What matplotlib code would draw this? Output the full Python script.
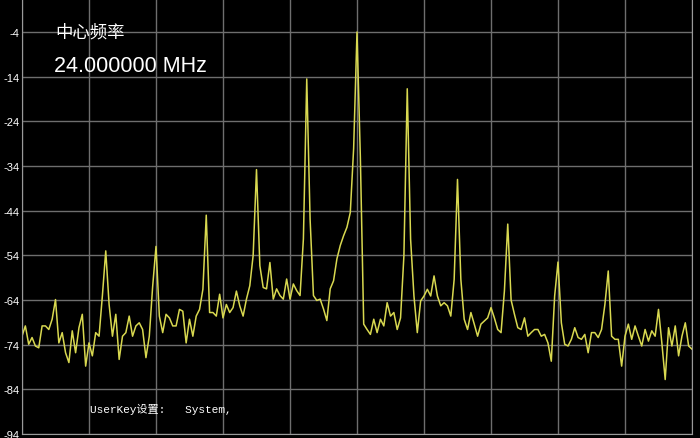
import numpy as np
import matplotlib.pyplot as plt
import matplotlib

matplotlib.rcParams.update({'font.size': 8})

# trace level (dBm), one sample every 0.05 division (201 samples over 10 div)
level = [
    -72.1, -69.8, -73.9, -72.4, -74.3, -74.7, -69.8, -69.8, -70.6, -68.3,
    -63.9, -73.6, -71.3, -75.8, -78.0, -70.9, -75.8, -70.2, -67.2, -78.8,
    -73.6, -76.5, -71.3, -72.1, -63.0, -53.0, -65.0, -72.1, -67.2, -77.3,
    -72.1, -71.3, -67.6, -72.1, -69.8, -69.1, -70.6, -76.9, -72.1, -61.0,
    -52.0, -67.6, -71.3, -67.2, -68.0, -69.8, -69.8, -66.1, -66.5, -73.6,
    -68.3, -72.1, -67.6, -66.1, -61.6, -45.0, -66.8, -66.8, -67.6, -62.7,
    -68.0, -65.0, -66.8, -65.7, -62.0, -65.3, -67.6, -63.8, -60.8, -54.0,
    -34.8, -56.3, -61.2, -61.5, -55.6, -63.8, -61.5, -63.0, -63.8, -59.3,
    -63.8, -60.4, -61.9, -63.0, -50.3, -14.5, -45.9, -63.0, -64.1, -63.8,
    -66.0, -68.6, -61.5, -59.7, -54.8, -51.8, -49.6, -47.7, -44.4, -30.0,
    -4.0, -32.0, -69.4, -70.6, -71.7, -68.3, -71.3, -68.3, -69.8, -64.6,
    -67.6, -66.8, -70.6, -68.0, -54.1, -16.7, -50.4, -63.1, -71.3, -64.2,
    -63.1, -61.6, -63.1, -58.6, -63.1, -65.3, -64.6, -65.3, -67.6, -59.4,
    -37.0, -59.4, -68.3, -70.6, -66.8, -69.4, -72.1, -69.4, -68.7, -68.0,
    -65.7, -68.0, -70.6, -71.3, -62.0, -47.0, -64.0, -67.2, -70.2, -70.6,
    -68.0, -72.1, -71.3, -70.6, -70.6, -72.1, -71.7, -73.6, -77.7, -63.1,
    -55.5, -69.1, -73.9, -74.3, -72.8, -70.2, -72.4, -72.8, -71.7, -75.8,
    -71.3, -71.3, -72.4, -70.6, -65.0, -57.5, -72.1, -72.8, -72.8, -78.8,
    -72.1, -69.4, -72.8, -69.8, -72.1, -74.3, -70.6, -73.2, -70.9, -72.1,
    -66.1, -73.6, -81.8, -70.2, -74.3, -69.8, -76.5, -72.1, -69.1, -74.3,
    -75.0,
]
center_mhz = 24.0
span_mhz = 2.0
freq = center_mhz - span_mhz / 2 + np.arange(len(level)) * span_mhz / (len(level) - 1)

yticks = [-94, -84, -74, -64, -54, -44, -34, -24, -14, -4]

fig = plt.figure(figsize=(7, 4.39), dpi=100, facecolor='black')
ax = fig.add_axes([22 / 700, 4 / 439, 670 / 700, 435 / 439])
ax.set_facecolor('black')

ax.plot(freq, level, color='#d8d850', lw=1.1)

ax.set_xlim(freq[0], freq[-1])
ax.set_ylim(-94, 3.4)
ax.set_xticks(np.linspace(freq[0], freq[-1], 11))
ax.set_yticks(yticks)
ax.set_yticklabels([str(t) for t in yticks], color='white', family='Liberation Sans', fontsize=8)
ax.tick_params(axis='x', labelbottom=False, length=0)
ax.tick_params(axis='y', length=0, pad=2)
ax.grid(color='#6e6e6e', lw=1.0)
for side in ['left', 'bottom', 'right']:
    ax.spines[side].set_color('#9a9a9a')
ax.spines['top'].set_visible(False)

fig.text(55 / 700, 1 - 33 / 439, '中心频率', color='white', fontsize=12.5,
         family=['Noto Sans CJK SC', 'DejaVu Sans'], va='center', ha='left')
fig.text(54 / 700, 1 - 66 / 439, '24.000000 MHz', color='white', fontsize=15.5,
         family='Liberation Sans', va='center', ha='left')
fig.text(90 / 700, 1 - 409 / 439, 'UserKey设置:   System,', color='white', fontsize=8,
         family=['Liberation Mono', 'Noto Sans CJK SC'], va='center', ha='left')

plt.savefig('out.png', dpi=100, facecolor='black')
